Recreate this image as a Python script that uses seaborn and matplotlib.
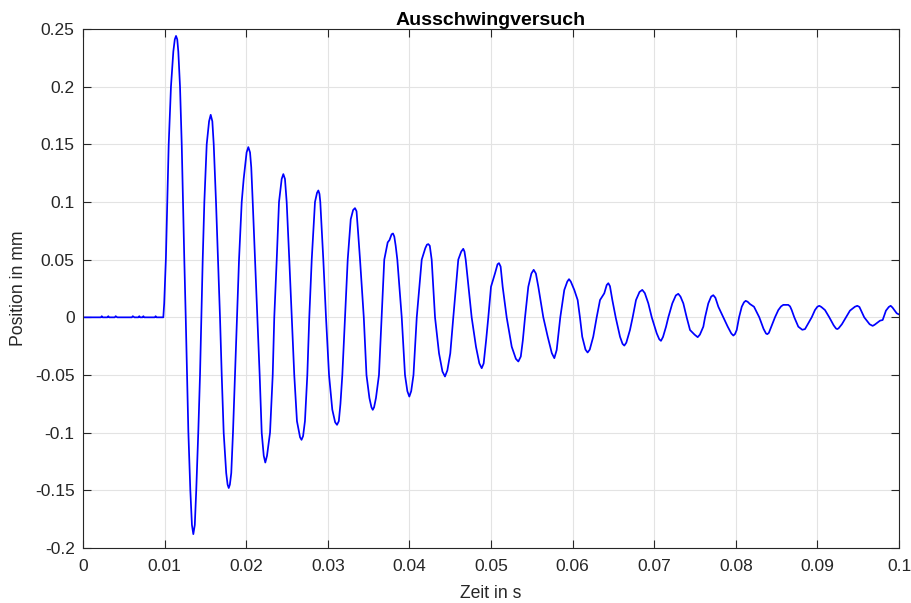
import matplotlib
matplotlib.use("Agg")
import matplotlib.pyplot as plt
import pandas as pd
import seaborn as sns

# Measured displacement of the free decay test (time in s, position in mm),
# one row per half-cycle of the oscillation
zeit_s = [
    0.0, 0.0022, 0.0023, 0.0024, 0.0030, 0.0031, 0.0032, 0.0039, 0.0040, 0.0042,
    0.0060, 0.0061, 0.0063, 0.0068, 0.0069, 0.0070, 0.0073, 0.0074, 0.0075,
    0.0088, 0.0089, 0.0090, 0.00984,
    0.00995, 0.01016, 0.01033, 0.0105, 0.01078, 0.01107, 0.01125, 0.0114, 0.01155, 0.01168,
    0.01189, 0.0121, 0.01225, 0.01241, 0.01259, 0.01275, 0.01291, 0.01315, 0.01335, 0.01352,
    0.0137, 0.01388, 0.01413, 0.01434, 0.0145, 0.01467, 0.01487, 0.01516, 0.01545, 0.01565,
    0.01585, 0.01602, 0.0163, 0.01654, 0.01679, 0.017, 0.01724, 0.01755, 0.01772, 0.01786,
    0.018, 0.01817, 0.01838, 0.01863, 0.01887, 0.01912, 0.01945, 0.01969, 0.02005, 0.02026,
    0.02047, 0.02062, 0.0208, 0.02108, 0.02136, 0.02165, 0.0219, 0.02215, 0.02234,
    0.02255, 0.02292, 0.02325, 0.02344, 0.02374, 0.02402, 0.02435, 0.02455,
    0.02475, 0.02496, 0.02528, 0.02558, 0.02589, 0.02622, 0.0266, 0.02678,
    0.02697, 0.0272, 0.02749, 0.02773, 0.02803, 0.02843, 0.02868, 0.02884,
    0.02898, 0.02908, 0.02945, 0.02978, 0.03015, 0.03055, 0.0309, 0.03113,
    0.03135, 0.03155, 0.03178, 0.03211, 0.03244, 0.03281, 0.0331, 0.03333,
    0.03352, 0.0337, 0.03395, 0.03441, 0.03474, 0.0351, 0.03535, 0.03551,
    0.03567, 0.0359, 0.03627, 0.0366, 0.03692, 0.03734, 0.03756, 0.03782, 0.03799,
    0.03815, 0.03832, 0.03852, 0.03906, 0.03946, 0.03975, 0.03999,
    0.04022, 0.0405, 0.0409, 0.04151, 0.04195, 0.04215, 0.04232,
    0.0425, 0.04273, 0.04314, 0.04363, 0.04405, 0.04436,
    0.04465, 0.04501, 0.04538, 0.04599, 0.04635, 0.0466,
    0.04675, 0.0469, 0.04763, 0.04816, 0.04857, 0.04886,
    0.0491, 0.0494, 0.04967, 0.05, 0.05049, 0.0508, 0.05098,
    0.05118, 0.05143, 0.05192, 0.05254, 0.05305, 0.05335,
    0.05365, 0.0539, 0.05417, 0.05457, 0.05495, 0.05523,
    0.0555, 0.0558, 0.05641, 0.05695, 0.05745, 0.05776,
    0.05805, 0.05849, 0.05898, 0.05935, 0.05956,
    0.05978, 0.06021, 0.06062, 0.0609, 0.06118, 0.06158, 0.06184,
    0.0621, 0.06253, 0.06295, 0.06336, 0.06388, 0.06418, 0.06438,
    0.06458, 0.06487, 0.06528, 0.06581, 0.06612, 0.06634,
    0.06658, 0.06703, 0.06736, 0.06777, 0.0682, 0.06854,
    0.06885, 0.06928, 0.0697, 0.07031, 0.07062, 0.07083,
    0.07108, 0.07145, 0.07173, 0.07222, 0.07265, 0.07295,
    0.07322, 0.07357, 0.07398, 0.07439, 0.07495, 0.07533,
    0.0756, 0.07602, 0.07623, 0.07663, 0.07698, 0.07724,
    0.0775, 0.07786, 0.07847, 0.07901, 0.07945, 0.0797,
    0.0799, 0.08011, 0.0804, 0.08073, 0.081, 0.08121,
    0.08145, 0.08174, 0.08223, 0.08288, 0.0834, 0.0837, 0.08386,
    0.08405, 0.08452, 0.0848, 0.08521, 0.08555, 0.08582,
    0.08643, 0.08665, 0.08685, 0.08717, 0.08766, 0.08815,
    0.08848, 0.0893, 0.0897, 0.09, 0.09023,
    0.09048, 0.09093, 0.09146, 0.092, 0.09228, 0.09244,
    0.0926, 0.093, 0.0935, 0.09399, 0.0946, 0.09489,
    0.09515, 0.09574, 0.0964, 0.09677,
    0.097, 0.09767, 0.098, 0.0984, 0.09875, 0.09898,
    0.0992, 0.09972, 0.1,
]
position_mm = [
    0.0, 0.0, 0.001, 0.0, 0.0, 0.001, 0.0, 0.0, 0.001, 0.0,
    0.0, 0.001, 0.0, 0.0, 0.001, 0.0, 0.0, 0.001, 0.0,
    0.0, 0.001, 0.0, 0.0,
    0.012, 0.0513, 0.1004, 0.1496, 0.2, 0.2305, 0.241, 0.244, 0.241, 0.2305,
    0.2, 0.1496, 0.1004, 0.0513, 0.0, -0.0499, -0.099, -0.1496, -0.18, -0.188,
    -0.18, -0.1496, -0.099, -0.05, 0.0, 0.05, 0.1, 0.15, 0.17, 0.1756,
    0.17, 0.15, 0.1, 0.05, 0.0, -0.05, -0.1, -0.135, -0.145, -0.148,
    -0.145, -0.135, -0.1, -0.05, 0.0, 0.05, 0.1, 0.12, 0.143, 0.1476,
    0.143, 0.13, 0.1, 0.05, 0.0, -0.05, -0.1, -0.12, -0.1259,
    -0.12, -0.1, -0.05, 0.0, 0.05, 0.1, 0.12, 0.1242,
    0.12, 0.1, 0.05, 0.0, -0.05, -0.09, -0.104, -0.1062,
    -0.103, -0.09, -0.05, 0.0, 0.05, 0.1, 0.108, 0.11,
    0.107, 0.1, 0.05, 0.0, -0.05, -0.08, -0.091, -0.0932,
    -0.09, -0.075, -0.05, 0.0, 0.05, 0.085, 0.093, 0.0947,
    0.092, 0.075, 0.05, 0.0, -0.05, -0.07, -0.078, -0.0802,
    -0.078, -0.07, -0.05, 0.0, 0.05, 0.065, 0.067, 0.072, 0.0727,
    0.07, 0.062, 0.05, 0.0, -0.05, -0.064, -0.0687,
    -0.064, -0.05, 0.0, 0.05, 0.06, 0.063, 0.0635,
    0.062, 0.05, 0.0, -0.0312, -0.047, -0.0513,
    -0.046, -0.0312, 0.0, 0.05, 0.057, 0.0594,
    0.057, 0.05, 0.0, -0.0255, -0.0399, -0.0441,
    -0.04, -0.02, 0.0, 0.0265, 0.0381, 0.046, 0.047,
    0.044, 0.0265, 0.0, -0.0255, -0.036, -0.0383,
    -0.034, -0.02, 0.0, 0.0265, 0.038, 0.0412,
    0.038, 0.0265, 0.0, -0.0168, -0.031, -0.0354,
    -0.0283, 0.0, 0.0237, 0.031, 0.0331,
    0.031, 0.0237, 0.015, 0.0, -0.0168, -0.028, -0.0305,
    -0.028, -0.0168, 0.0, 0.015, 0.0208, 0.028, 0.0296,
    0.027, 0.015, 0.0, -0.0168, -0.023, -0.0245,
    -0.022, -0.011, 0.0, 0.015, 0.022, 0.0238,
    0.021, 0.0121, 0.0, -0.0139, -0.019, -0.0204,
    -0.017, -0.0081, 0.0, 0.0121, 0.019, 0.0204,
    0.018, 0.0121, 0.0, -0.011, -0.015, -0.0172,
    -0.015, -0.0081, 0.0, 0.0121, 0.018, 0.0192,
    0.017, 0.0092, 0.0, -0.0081, -0.014, -0.0158,
    -0.0145, -0.011, 0.0, 0.0092, 0.013, 0.0143,
    0.0135, 0.0115, 0.0092, 0.0, -0.01, -0.014, -0.0146,
    -0.0135, -0.0052, 0.0, 0.0063, 0.0095, 0.0108,
    0.0108, 0.0095, 0.0063, 0.0, -0.0081, -0.0108,
    -0.0102, 0.0, 0.0063, 0.0092, 0.01,
    0.009, 0.0063, 0.0, -0.007, -0.0097, -0.0102,
    -0.0095, -0.006, 0.0, 0.0058, 0.0092, 0.01,
    0.009, 0.0, -0.006, -0.0074,
    -0.0065, -0.0029, -0.0023, 0.0058, 0.009, 0.01,
    0.0085, 0.0035, 0.0025,
]

x_ticks = [0, 0.01, 0.02, 0.03, 0.04, 0.05, 0.06, 0.07, 0.08, 0.09, 0.1]
x_tick_labels = ["0", "0.01", "0.02", "0.03", "0.04", "0.05", "0.06", "0.07", "0.08", "0.09", "0.1"]
y_ticks = [-0.2, -0.15, -0.1, -0.05, 0, 0.05, 0.1, 0.15, 0.2, 0.25]
y_tick_labels = ["-0.2", "-0.15", "-0.1", "-0.05", "0", "0.05", "0.1", "0.15", "0.2", "0.25"]

df = pd.DataFrame({"Zeit": zeit_s, "Position": position_mm})

sns.set_theme(style="whitegrid")
plt.rcParams["font.family"] = ["Liberation Sans", "DejaVu Sans"]

axis_gray = "#262626"

fig = plt.figure(figsize=(9.12, 6.03), dpi=100)
ax = fig.add_axes([83 / 912, 1 - 548 / 603, (899 - 83) / 912, (548 - 29) / 603])

sns.lineplot(data=df, x="Zeit", y="Position", ax=ax, color=(0, 0, 1),
             linewidth=1.25, estimator=None, sort=False,
             solid_joinstyle="round", solid_capstyle="round")

ax.set_xlim(0, 0.1)
ax.set_ylim(-0.2, 0.25)
ax.set_xticks(x_ticks)
ax.set_xticklabels(x_tick_labels)
ax.set_yticks(y_ticks)
ax.set_yticklabels(y_tick_labels)

ax.grid(True, color="#e3e3e3", linewidth=0.8)
ax.set_axisbelow(True)
for side in ["left", "right", "top", "bottom"]:
    ax.spines[side].set_visible(True)
    ax.spines[side].set_color(axis_gray)
    ax.spines[side].set_linewidth(0.8)

ax.tick_params(axis="both", which="both", direction="in", length=6, width=0.8,
               color=axis_gray, labelcolor=axis_gray, labelsize=12.5,
               top=True, right=True, bottom=True, left=True, pad=6)
ax.tick_params(axis="x", pad=8)

ax.set_xlabel("Zeit in s", fontsize=12.7, color=axis_gray, labelpad=8)
ax.set_ylabel("Position in mm", fontsize=12.7, color=axis_gray, labelpad=6)
ax.set_title("Ausschwingversuch", fontsize=14, fontweight="bold", color="black", pad=3)

fig.savefig("out.png", dpi=100, facecolor="white")
